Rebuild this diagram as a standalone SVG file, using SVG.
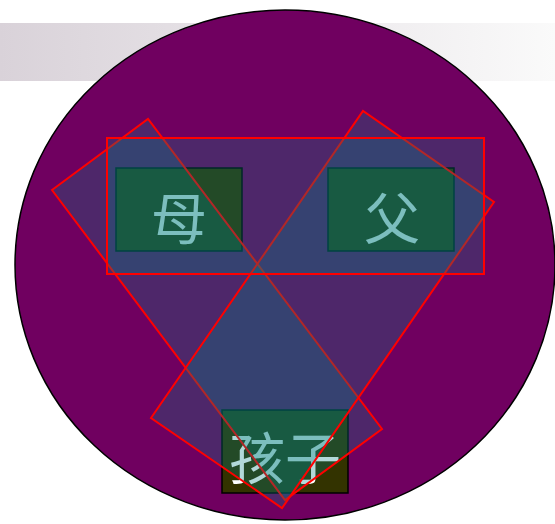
<svg xmlns="http://www.w3.org/2000/svg" width="555" height="524" viewBox="0 0 555 524">
<defs>
<linearGradient id="band" x1="0" y1="0" x2="1" y2="0">
<stop offset="0" stop-color="#d9d2d9"/>
<stop offset="1" stop-color="#fafafa"/>
</linearGradient>
<style>
.box{fill:#333300;stroke:#000;stroke-width:1.5}
.lbl{fill:#fff;font-family:"Noto Sans CJK SC","Noto Sans CJK JP",sans-serif;font-size:56px;text-anchor:middle}
.ov{fill:#008080;fill-opacity:0.3;stroke:#ff0000;stroke-width:2;stroke-linejoin:miter}
</style>
</defs>
<rect x="0" y="23" width="555" height="58" fill="url(#band)"/>
<ellipse cx="285" cy="265" rx="270" ry="255" fill="#700060" stroke="#000" stroke-width="1.5"/>
<g id="mother">
<rect class="box" x="116" y="168" width="126" height="83"/>
<text class="lbl" x="179" y="239">母</text>
</g>
<g id="father">
<rect class="box" x="328" y="168" width="126" height="83"/>
<text class="lbl" x="392" y="239">父</text>
</g>
<g id="child">
<rect class="box" x="222" y="410" width="126" height="83"/>
<text class="lbl" x="285" y="479" font-size="60">孩子</text>
</g>
<g id="connectors">
<polygon class="ov" points="52,190 148,119 382,429 285,500"/>
<polygon class="ov" points="151,418 363,111 494,202 282,508"/>
<rect class="ov" x="107" y="138" width="377" height="136"/>
</g>
</svg>
